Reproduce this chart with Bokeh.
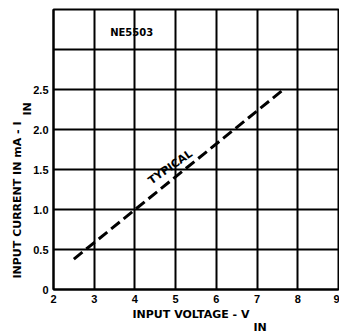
from bokeh.plotting import figure
from bokeh.models import FixedTicker, Label, Range1d, Title
from bokeh.embed import file_html
from bokeh.resources import INLINE
import math

# data
line_v = [2.5, 7.65]
line_i = [0.38, 2.5]
x_ticks = [2, 3, 4, 5, 6, 7, 8, 9]
y_ticks = [0, 0.5, 1.0, 1.5, 2.0, 2.5]
y_grid = [0, 0.5, 1.0, 1.5, 2.0, 2.5, 3.0, 3.5]
y_tick_labels = ["0", "0.5", "1.0", "1.5", "2.0", "2.5"]
device_label = "NE5503"
curve_label = "TYPICAL"
x_title = "INPUT VOLTAGE - V"
y_title = "INPUT CURRENT IN mA - I"
sub = "IN"

FONT = "Liberation Sans"
LFONT = "DejaVu Sans"

p = figure(width=339, height=332, output_backend="svg", toolbar_location=None,
           x_range=Range1d(2, 9), y_range=Range1d(0, 3.5),
           min_border_left=53, min_border_right=1, min_border_top=9, min_border_bottom=43)

p.line(line_v, line_i, line_color="black", line_width=3, line_dash="11 5")

p.xaxis.ticker = FixedTicker(ticks=x_ticks)
p.yaxis.ticker = FixedTicker(ticks=y_ticks)
p.yaxis.major_label_overrides = {t: l for t, l in zip(y_ticks, y_tick_labels)}
p.xgrid.ticker = FixedTicker(ticks=x_ticks)
p.ygrid.ticker = FixedTicker(ticks=y_grid)
for g in (p.xgrid, p.ygrid):
    g.grid_line_color = "black"
    g.grid_line_width = 2
    g.grid_line_alpha = 1
for ax in (p.xaxis, p.yaxis):
    ax.axis_line_color = "black"
    ax.axis_line_width = 2
    ax.major_tick_line_color = None
    ax.minor_tick_line_color = None
    ax.major_tick_out = 0
    ax.major_tick_in = 0
    ax.minor_tick_out = 0
    ax.minor_tick_in = 0
    ax.major_label_text_font = FONT
    ax.major_label_text_font_style = "bold"
    ax.major_label_text_font_size = "11px"
    ax.major_label_text_color = "black"
p.xaxis.major_label_standoff = 5
p.yaxis.major_label_standoff = 5
p.outline_line_color = "black"
p.outline_line_width = 2
p.outline_line_alpha = 1

def lab(x, y, t, size="10px", angle=0.0):
    p.add_layout(Label(x=x, y=y, text=t, text_font=LFONT, text_font_style="bold",
                       text_font_size=size, text_color="black", angle=angle,
                       text_align="center", text_baseline="middle"))

lab(3.92, 3.21, device_label)
lab(4.87, 1.53, curve_label, size="11px", angle=math.radians(35))

def title(t, side, offset, standoff, size="11px"):
    p.add_layout(Title(text=t, align="left", offset=offset, standoff=standoff,
                       text_font=LFONT, text_font_style="bold", text_font_size=size,
                       text_color="black"), side)

# x axis title with subscript
title(x_title, "below", 79, 1)
title(sub, "below", 200, -6)
# y axis title with subscript (subscript row is nearer the frame)
title(sub, "left", 174, -6)
title(y_title, "left", 11, -4)

open("out.html", "w").write(file_html(p, INLINE))
